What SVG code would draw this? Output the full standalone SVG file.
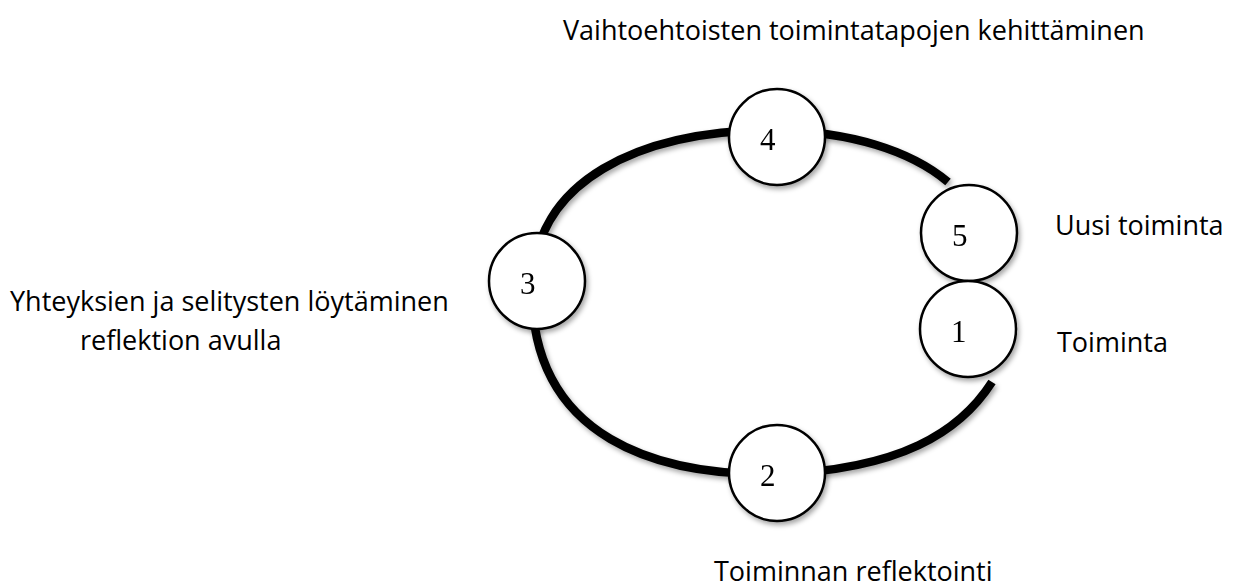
<svg xmlns="http://www.w3.org/2000/svg" width="1234" height="588" viewBox="0 0 1234 588">
<defs>
<style>
.lbl{font-family:"Open Sans","Liberation Sans",sans-serif;font-size:27px;fill:#000}
.num{font-family:"Liberation Serif","DejaVu Serif",serif;font-size:31px;fill:#000}
.node circle{fill:#fff;stroke:#000;stroke-width:2.5}
.conn{fill:none;stroke:#000;stroke-width:8.5;stroke-linecap:butt}
</style>
<filter id="sh" x="-20%" y="-20%" width="140%" height="140%">
<feDropShadow dx="2" dy="3" stdDeviation="2.5" flood-color="#000" flood-opacity="0.35"/>
</filter>
</defs>
<rect width="1234" height="588" fill="#fff"/>
<g id="connectors" filter="url(#sh)">
<path class="conn" d="M992,382 C960,432 900,470 776,474 C660,476 532,440 532,290 C532,180 640,130 776,130 C850,132 910,150 948,182"/>
</g>
<g id="node4" class="node" filter="url(#sh)"><circle cx="777" cy="137" r="48"/><text class="num" x="760" y="150">4</text></g>
<g id="node5" class="node" filter="url(#sh)"><circle cx="969" cy="233" r="48"/><text class="num" x="952" y="246">5</text></g>
<g id="node1" class="node" filter="url(#sh)"><circle cx="968" cy="329" r="48"/><text class="num" x="951" y="342">1</text></g>
<g id="node3" class="node" filter="url(#sh)"><circle cx="537" cy="281" r="48"/><text class="num" x="520" y="294">3</text></g>
<g id="node2" class="node" filter="url(#sh)"><circle cx="777" cy="473" r="48"/><text class="num" x="760" y="486">2</text></g>
<g id="labels">
<text class="lbl" x="563" y="40">Vaihtoehtoisten toimintatapojen kehittäminen</text>
<text class="lbl" x="1055" y="235">Uusi toiminta</text>
<text class="lbl" x="10" y="311">Yhteyksien ja selitysten löytäminen</text>
<text class="lbl" x="80" y="350">reflektion avulla</text>
<text class="lbl" x="1057" y="352">Toiminta</text>
<text class="lbl" x="714" y="581">Toiminnan reflektointi</text>
</g>
</svg>
